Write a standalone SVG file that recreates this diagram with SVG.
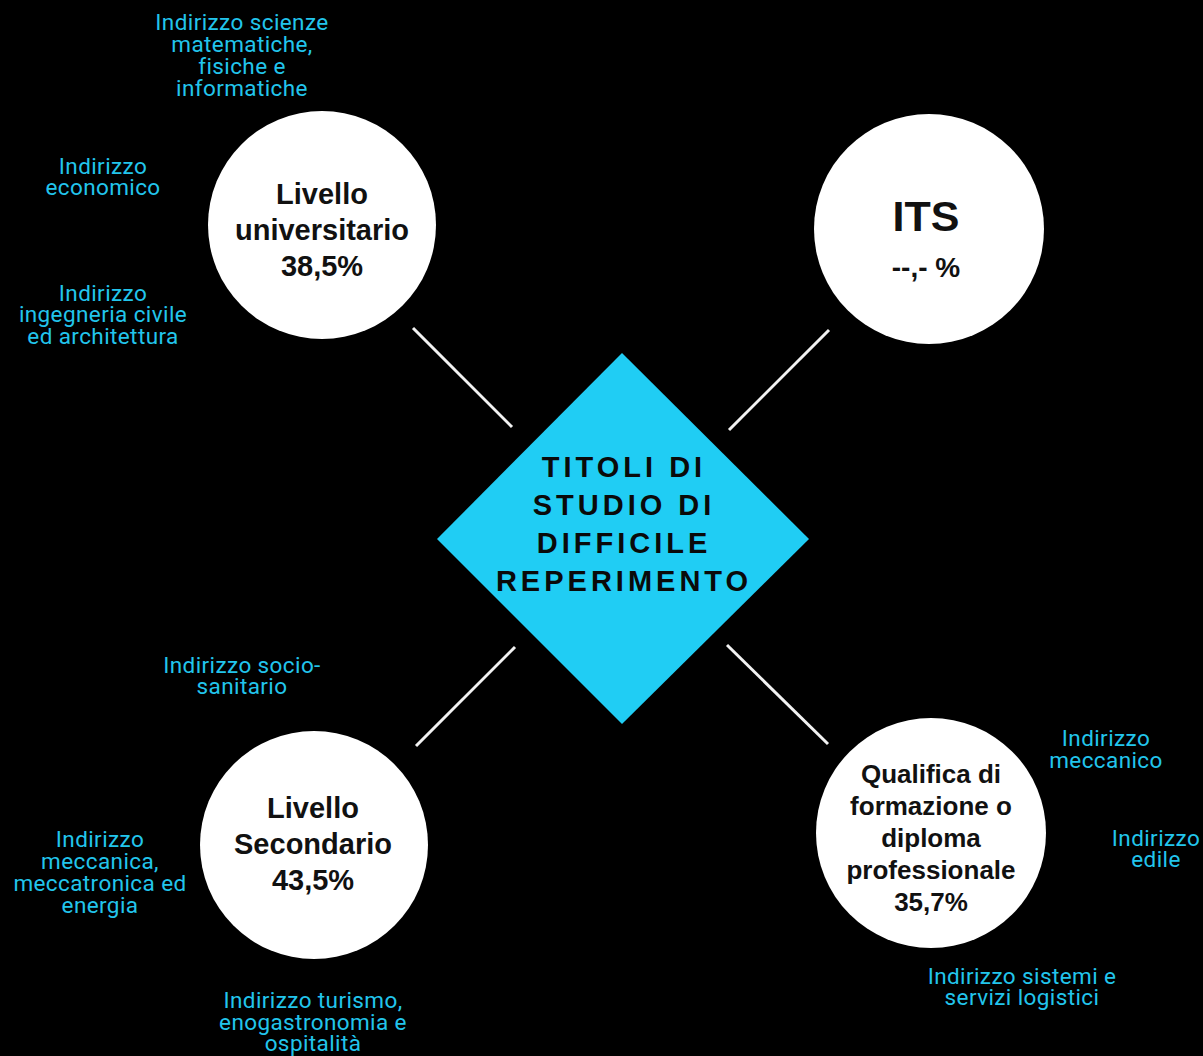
<svg xmlns="http://www.w3.org/2000/svg" width="1203" height="1056" viewBox="0 0 1203 1056">
<style>
.bg{fill:#000}
.node{fill:#fff}
.conn{stroke:#f2f2f2;stroke-width:3;fill:none}
.lbl{font-family:"Liberation Sans",Arial,sans-serif;font-weight:bold;fill:#111;text-anchor:middle}
.sub{font-family:Roboto,"Liberation Sans",sans-serif;font-size:22.5px;fill:#22C5EC;text-anchor:middle;letter-spacing:0.4px}
.title{font-family:"Liberation Sans",Arial,sans-serif;font-weight:bold;font-size:29px;letter-spacing:4px;fill:#0a0a0a;text-anchor:middle}
</style>
<rect class="bg" x="0" y="0" width="1203" height="1056"/>
<g id="connectors">
<line class="conn" x1="413" y1="328" x2="512" y2="427"/>
<line class="conn" x1="729" y1="430" x2="829" y2="330"/>
<line class="conn" x1="515" y1="647" x2="416" y2="746"/>
<line class="conn" x1="727" y1="645" x2="828" y2="744"/>
</g>
<g id="center">
<polygon points="622,353 809,539 622,724 437,539" fill="#20CDF4"/>
<text class="title"><tspan x="624" y="477">TITOLI DI</tspan><tspan x="624" y="515">STUDIO DI</tspan><tspan x="624" y="553">DIFFICILE</tspan><tspan x="624" y="591">REPERIMENTO</tspan></text>
</g>
<g id="universitario">
<circle class="node" cx="322" cy="225" r="114"/>
<text class="lbl" font-size="29"><tspan x="322" y="204">Livello</tspan><tspan x="322" y="240">universitario</tspan><tspan x="322" y="276">38,5%</tspan></text>
</g>
<g id="its">
<circle class="node" cx="929" cy="229" r="115"/>
<text class="lbl" font-size="43" x="926" y="231">ITS</text>
<text class="lbl" font-size="28" x="926" y="277">--,- %</text>
</g>
<g id="secondario">
<circle class="node" cx="314" cy="845" r="114"/>
<text class="lbl" font-size="29"><tspan x="313" y="818">Livello</tspan><tspan x="313" y="854">Secondario</tspan><tspan x="313" y="890">43,5%</tspan></text>
</g>
<g id="qualifica">
<circle class="node" cx="931" cy="833" r="115"/>
<text class="lbl" font-size="26"><tspan x="931" y="783">Qualifica di</tspan><tspan x="931" y="815">formazione o</tspan><tspan x="931" y="847">diploma</tspan><tspan x="931" y="879">professionale</tspan><tspan x="931" y="911">35,7%</tspan></text>
</g>
<g id="sub-univ">
<text class="sub"><tspan x="242" y="30">Indirizzo scienze</tspan><tspan x="242" y="52">matematiche,</tspan><tspan x="242" y="74">fisiche e</tspan><tspan x="242" y="96">informatiche</tspan></text>
<text class="sub"><tspan x="103" y="174">Indirizzo</tspan><tspan x="103" y="195">economico</tspan></text>
<text class="sub"><tspan x="103" y="301">Indirizzo</tspan><tspan x="103" y="322">ingegneria civile</tspan><tspan x="103" y="344">ed architettura</tspan></text>
</g>
<g id="sub-sec">
<text class="sub"><tspan x="242" y="673">Indirizzo socio-</tspan><tspan x="242" y="694">sanitario</tspan></text>
<text class="sub"><tspan x="100" y="847">Indirizzo</tspan><tspan x="100" y="869">meccanica,</tspan><tspan x="100" y="891">meccatronica ed</tspan><tspan x="100" y="913">energia</tspan></text>
<text class="sub"><tspan x="313" y="1008">Indirizzo turismo,</tspan><tspan x="313" y="1030">enogastronomia e</tspan><tspan x="313" y="1051">ospitalità</tspan></text>
</g>
<g id="sub-qual">
<text class="sub"><tspan x="1106" y="746">Indirizzo</tspan><tspan x="1106" y="768">meccanico</tspan></text>
<text class="sub"><tspan x="1156" y="846">Indirizzo</tspan><tspan x="1156" y="867">edile</tspan></text>
<text class="sub"><tspan x="1022" y="984">Indirizzo sistemi e</tspan><tspan x="1022" y="1005">servizi logistici</tspan></text>
</g>
</svg>
